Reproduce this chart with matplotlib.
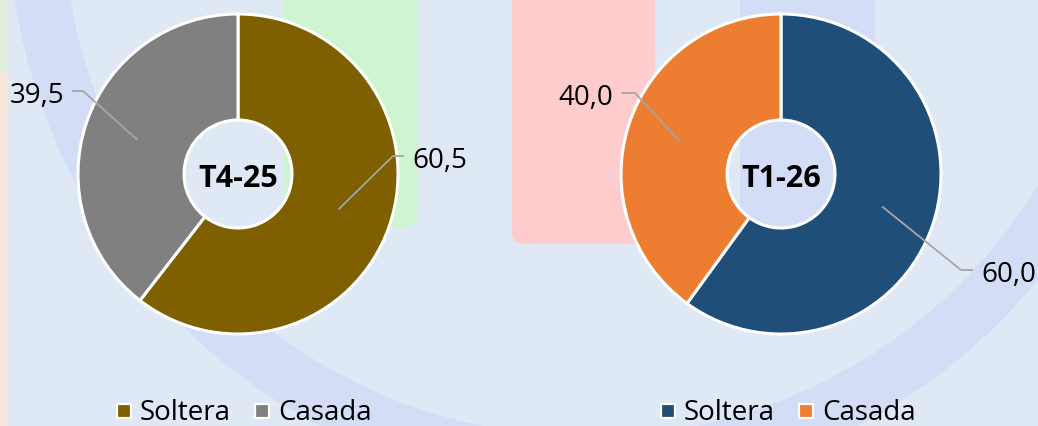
import numpy as np
import matplotlib.pyplot as plt
from matplotlib.patches import Rectangle, FancyBboxPatch, Wedge

plt.rcParams['font.family'] = ['Open Sans', 'DejaVu Sans']

W, H = 1038, 427

# data
quarters = ["T4-25", "T1-26"]
categories = ["Soltera", "Casada"]
values_t4 = [60.5, 39.5]
values_t1 = [60.0, 40.0]
colors_t4 = ["#7F6000", "#808080"]
colors_t1 = ["#1F4E79", "#ED7D31"]

BG = "#DEE9F5"
LAV = "#D3DDF6"

fig = plt.figure(figsize=(W / 100, H / 100), dpi=100, facecolor=BG)
ax = fig.add_axes([0, 0, 1, 1])
ax.set_facecolor(BG)


def Y(py):
    # pixel row (from top) -> data y
    return H - py


# decorative background
ax.add_patch(Rectangle((0, Y(75)), 7, 80, color="#E2F0DA", lw=0, zorder=0))
ax.add_patch(Rectangle((0, 0), 7, Y(75), color="#FBE5D8", lw=0, zorder=0))
ax.add_patch(FancyBboxPatch((284, Y(228)), 134, 300, boxstyle="round,pad=0,rounding_size=12",
                            color="#CEF5D0", lw=0, zorder=0))
ax.add_patch(FancyBboxPatch((512, Y(245)), 143, 300, boxstyle="round,pad=0,rounding_size=12",
                            color="#FFCCCE", lw=0, zorder=0))
ax.add_patch(Rectangle((740, Y(280)), 135, 300, color=LAV, lw=0, zorder=0))
ax.add_patch(Wedge((589, Y(-88)), 581, 0, 360, width=55, color=LAV, lw=0, zorder=0.5))

# layout of each donut (pixels)
centers = [(238, 175), (781, 175)]
r_out, r_in = 160, 54
# elbow point, line end, side for each label (Soltera, Casada)
leaders = [
    [((393, 157), (403, 157), "left"), ((83, 92), (73, 92), "right")],
    [((961, 271), (972, 271), "left"), ((635, 94), (622, 94), "right")],
]
legend_x = [[124, 262], [668, 806]]

for k, (vals, cols) in enumerate([(values_t4, colors_t4), (values_t1, colors_t1)]):
    cx, cy = centers[k]
    ax.pie(vals, colors=cols, startangle=90, counterclock=False, radius=r_out,
           center=(cx, Y(cy)), frame=True,
           wedgeprops=dict(width=r_out - r_in, edgecolor="white", linewidth=2.2))

    fr = np.array(vals) / np.sum(vals)
    cum = np.concatenate([[0], np.cumsum(fr)[:-1]])
    mids = np.radians(90 - 360 * (cum + fr / 2))
    r_mid = (r_out + r_in) / 2
    for i, v in enumerate(vals):
        sx = cx + r_mid * np.cos(mids[i])
        sy = Y(cy) + r_mid * np.sin(mids[i])
        (ex, ey), (tx, ty), side = leaders[k][i]
        ax.plot([sx, ex, tx], [sy, Y(ey), Y(ty)], color="#A6A6A6", lw=1.3, zorder=3)
        lab = f"{v:.1f}".replace(".", ",")
        off = 9 if side == "left" else -9
        ax.text(tx + off, Y(ty + 11), lab, ha=side, va="baseline", fontsize=20,
                color="black", zorder=4)

    ax.text(cx, Y(cy + 12), quarters[k], ha="center", va="baseline", fontsize=22,
            fontweight="bold", color="black", zorder=4)

    for i, cat in enumerate(categories):
        lx = legend_x[k][i]
        ax.scatter([lx], [Y(412)], marker="s", s=110, color=cols[i], edgecolors="white",
                   linewidths=1.6, zorder=4)
        ax.text(lx + 16, Y(420), cat, ha="left", va="baseline", fontsize=20,
                color="black", zorder=4)

ax.set_xlim(0, W)
ax.set_ylim(0, H)
ax.set_aspect("equal")
ax.set_axis_off()

fig.savefig("out.png", dpi=100, facecolor=BG)
